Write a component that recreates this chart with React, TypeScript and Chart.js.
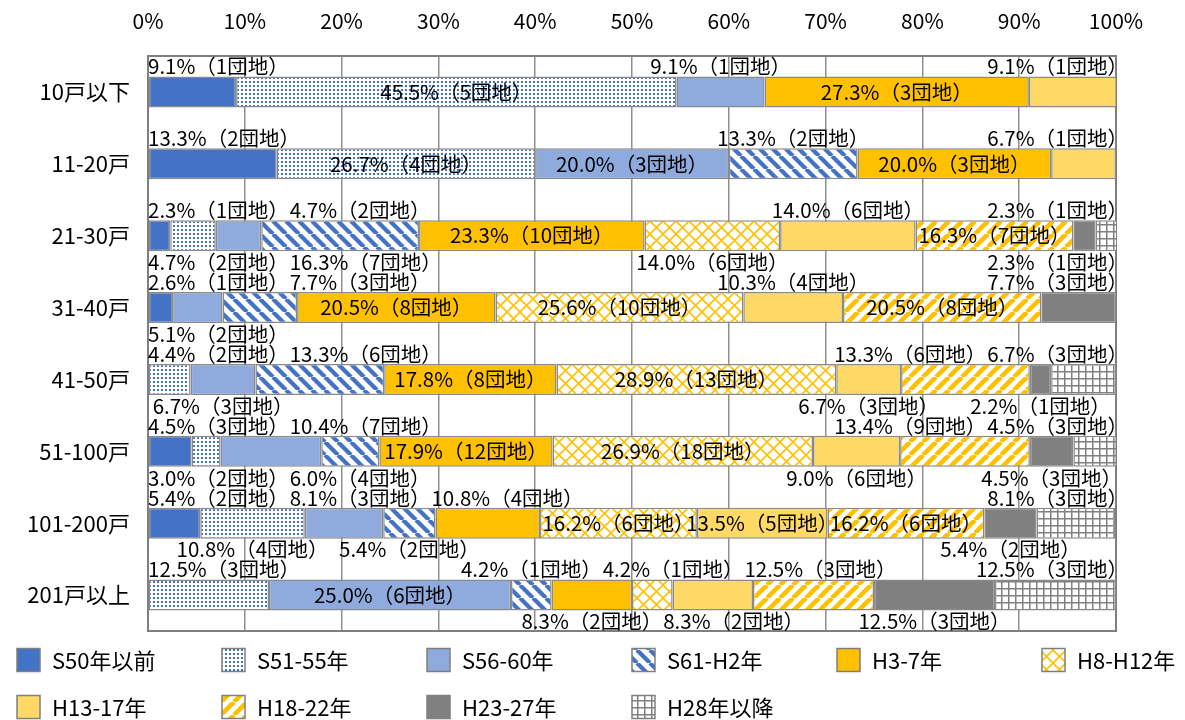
import React, { useEffect, useRef } from 'react';
import { Chart, registerables } from 'chart.js';

Chart.register(...registerables);

const FONT = '"Noto Sans CJK JP", "Noto Sans", sans-serif';

// 団地規模（戸数）の区分
const categories = ['10戸以下', '11-20戸', '21-30戸', '31-40戸', '41-50戸', '51-100戸', '101-200戸', '201戸以上'];

// 建設年度の区分
const seriesNames = ['S50年以前', 'S51-55年', 'S56-60年', 'S61-H2年', 'H3-7年', 'H8-H12年', 'H13-17年', 'H18-22年', 'H23-27年', 'H28年以降'];

// 構成比（%）
const pctS50 = [9.1, 13.3, 2.3, 2.6, null, 4.5, 5.4, null];
const pctS51 = [45.5, 26.7, 4.7, null, 4.4, 3.0, 10.8, 12.5];
const pctS56 = [9.1, 20.0, 4.7, 5.1, 6.7, 10.4, 8.1, 25.0];
const pctS61 = [null, 13.3, 16.3, 7.7, 13.3, 6.0, 5.4, 4.2];
const pctH3 = [27.3, 20.0, 23.3, 20.5, 17.8, 17.9, 10.8, 8.3];
const pctH8 = [null, null, 14.0, 25.6, 28.9, 26.9, 16.2, 4.2];
const pctH13 = [9.1, 6.7, 14.0, 10.3, 6.7, 9.0, 13.5, 8.3];
const pctH18 = [null, null, 16.3, 20.5, 13.3, 13.4, 16.2, 12.5];
const pctH23 = [null, null, 2.3, 7.7, 2.2, 4.5, 5.4, 12.5];
const pctH28 = [null, null, 2.3, null, 6.7, 4.5, 8.1, 12.5];

// 団地数
const cntS50 = [1, 2, 1, 1, 0, 3, 2, 0];
const cntS51 = [5, 4, 2, 0, 2, 2, 4, 3];
const cntS56 = [1, 3, 2, 2, 3, 7, 3, 6];
const cntS61 = [0, 2, 7, 3, 6, 4, 2, 1];
const cntH3 = [3, 3, 10, 8, 8, 12, 4, 2];
const cntH8 = [0, 0, 6, 10, 13, 18, 6, 1];
const cntH13 = [1, 1, 6, 4, 3, 6, 5, 2];
const cntH18 = [0, 0, 7, 8, 6, 9, 6, 3];
const cntH23 = [0, 0, 1, 3, 1, 3, 2, 3];
const cntH28 = [0, 0, 1, 0, 3, 3, 3, 3];

const pctSeries = [pctS50, pctS51, pctS56, pctS61, pctH3, pctH8, pctH13, pctH18, pctH23, pctH28];
const cntSeries = [cntS50, cntS51, cntS56, cntS61, cntH3, cntH8, cntH13, cntH18, cntH23, cntH28];

// x-axis tick values
const xTicks = [0, 10, 20, 30, 40, 50, 60, 70, 80, 90, 100];

// where each row's labels sit: i = inside the bar, u = above, d = below, - = none
const labelSides = [
  'uiu-i-u---',
  'uiiui-u---',
  'ududiduidu',
  'u-duiiuiu-',
  '-uduiidudu',
  'ududiidudu',
  'ududuiiidu',
  '-uiudududu',
];

const BLUE = '#4472C4';
const LIGHT_BLUE = '#8FAADC';
const ORANGE = '#FFC000';
const LIGHT_ORANGE = '#FFD966';
const GRAY = '#808080';

function tile(size: number, draw: (c: CanvasRenderingContext2D) => void): CanvasPattern | string {
  const cv = document.createElement('canvas');
  cv.width = size;
  cv.height = size;
  const c = cv.getContext('2d');
  if (!c) return '#ffffff';
  c.fillStyle = '#ffffff';
  c.fillRect(0, 0, size, size);
  draw(c);
  const p = c.createPattern(cv, 'repeat');
  return p || '#ffffff';
}

function dots(color: string) {
  return tile(4, (c) => {
    c.fillStyle = color;
    c.fillRect(1, 1, 2, 2);
  });
}

function stripes(color: string, down: boolean, width: number) {
  const p = 13;
  return tile(p, (c) => {
    c.strokeStyle = color;
    c.lineWidth = width;
    for (let k = -1; k <= 1; k++) {
      c.beginPath();
      if (down) {
        c.moveTo(k * p, 0);
        c.lineTo(k * p + p, p);
      } else {
        c.moveTo(k * p, p);
        c.lineTo(k * p + p, 0);
      }
      c.stroke();
    }
  });
}

function lattice(color: string) {
  const p = 13;
  return tile(p, (c) => {
    c.strokeStyle = color;
    c.lineWidth = 1.6;
    for (let k = -1; k <= 1; k++) {
      c.beginPath();
      c.moveTo(k * p, 0);
      c.lineTo(k * p + p, p);
      c.moveTo(k * p, p);
      c.lineTo(k * p + p, 0);
      c.stroke();
    }
  });
}

function grid(color: string) {
  const p = 7;
  return tile(p, (c) => {
    c.fillStyle = color;
    c.fillRect(0, 0, p, 1.5);
    c.fillRect(0, 0, 1.5, p);
  });
}

function seriesFills() {
  return [
    BLUE,
    dots(BLUE),
    LIGHT_BLUE,
    stripes(BLUE, true, 4.2),
    ORANGE,
    lattice(ORANGE),
    LIGHT_ORANGE,
    stripes(ORANGE, false, 4.6),
    GRAY,
    grid(GRAY),
  ];
}

function labelText(pct: number, cnt: number) {
  return `${pct.toFixed(1)}%（${cnt}団地）`;
}

type LaneItem = { cx: number; w: number; x: number; y: number; text: string };

function placeLane(items: LaneItem[], left: number, right: number, gap: number) {
  let prev = left - gap;
  for (const it of items) {
    let x = Math.max(it.cx - it.w / 2, left);
    x = Math.max(x, prev + gap);
    it.x = x;
    prev = x + it.w;
  }
  let lim = right;
  for (let k = items.length - 1; k >= 0; k--) {
    const it = items[k];
    if (it.x + it.w > lim) it.x = lim - it.w;
    lim = it.x - gap;
  }
}

const dataLabels = {
  id: 'dataLabels',
  afterDatasetsDraw(chart: any) {
    const ctx: CanvasRenderingContext2D = chart.ctx;
    const area = chart.chartArea;
    ctx.save();
    ctx.font = `20.5px ${FONT}`;
    ctx.fillStyle = '#000000';
    ctx.textBaseline = 'middle';
    ctx.textAlign = 'left';
    categories.forEach((_, j) => {
      const up: LaneItem[] = [];
      const down: LaneItem[] = [];
      const inside: LaneItem[] = [];
      pctSeries.forEach((series, i) => {
        const v = series[j];
        if (v == null) return;
        const side = labelSides[j][i];
        if (side === '-') return;
        const el = chart.getDatasetMeta(i).data[j];
        if (!el) return;
        const text = labelText(v, cntSeries[i][j]);
        const w = ctx.measureText(text).width;
        const cx = (el.x + el.base) / 2;
        const half = el.height / 2;
        const item: LaneItem = { cx, w, x: cx - w / 2, y: el.y, text };
        if (side === 'i') inside.push(item);
        else if (side === 'u') { item.y = el.y - half - 10; up.push(item); }
        else { item.y = el.y + half + 11; down.push(item); }
      });
      placeLane(up, area.left, area.right + 12, 1);
      placeLane(down, area.left, area.right + 12, 1);
      [...inside, ...up, ...down].forEach((it) => ctx.fillText(it.text, it.x, it.y));
    });
    ctx.restore();
  },
};

const frame = {
  id: 'frame',
  beforeDatasetsDraw(chart: any) {
    const { ctx, chartArea: a } = chart;
    ctx.save();
    ctx.strokeStyle = '#7f7f7f';
    ctx.lineWidth = 2;
    ctx.strokeRect(a.left, a.top, a.right - a.left, a.bottom - a.top);
    ctx.restore();
  },
};

const legendBlock = {
  id: 'legendBlock',
  afterDraw(chart: any) {
    const ctx: CanvasRenderingContext2D = chart.ctx;
    ctx.save();
    ctx.font = `22px ${FONT}`;
    ctx.textBaseline = 'middle';
    ctx.textAlign = 'left';
    chart.data.datasets.forEach((ds: any, i: number) => {
      const col = i % 6;
      const row = Math.floor(i / 6);
      const x = 17 + col * 205;
      const yc = row === 0 ? 660 : 707;
      ctx.fillStyle = ds.backgroundColor;
      ctx.fillRect(x, yc - 11.5, 23, 23);
      ctx.strokeStyle = '#7f7f7f';
      ctx.lineWidth = 1.5;
      ctx.strokeRect(x, yc - 11.5, 23, 23);
      ctx.fillStyle = '#000000';
      ctx.fillText(ds.label, x + 35, yc + 1);
    });
    ctx.restore();
  },
};

export default function App() {
  const ref = useRef<HTMLCanvasElement | null>(null);

  useEffect(() => {
    document.body.style.margin = '0';
    const canvas = ref.current;
    if (!canvas) return;
    const fills = seriesFills();
    const chart = new Chart(canvas, {
      type: 'bar',
      data: {
        labels: categories,
        datasets: seriesNames.map((name, i) => ({
          label: name,
          data: pctSeries[i],
          backgroundColor: fills[i],
          borderColor: '#8a8a8a',
          borderWidth: 1.5,
          borderSkipped: false,
          barPercentage: 0.43,
          categoryPercentage: 1,
        })),
      },
      options: {
        indexAxis: 'y',
        animation: false,
        responsive: false,
        devicePixelRatio: 1,
        layout: { padding: { top: 0, left: 0, right: 69, bottom: 89 } },
        plugins: {
          legend: { display: false },
          tooltip: { enabled: false },
        },
        scales: {
          x: {
            position: 'top',
            stacked: true,
            min: 0,
            max: 100,
            afterFit: (s: any) => { s.height = 56; },
            afterBuildTicks: (s: any) => { s.ticks = xTicks.map((v) => ({ value: v })); },
            ticks: {
              callback: (v: any) => `${v}%`,
              color: '#000000',
              font: { family: FONT, size: 21 },
              padding: 22,
            },
            grid: { color: '#8f8f8f', lineWidth: 1.5, drawTicks: false },
            border: { display: false },
          },
          y: {
            stacked: true,
            afterFit: (s: any) => { s.width = 148; },
            ticks: {
              color: '#000000',
              font: { family: FONT, size: 22 },
              padding: 18,
            },
            grid: { display: false, drawTicks: false },
            border: { display: false },
          },
        },
      },
      plugins: [frame, dataLabels, legendBlock],
    });
    return () => chart.destroy();
  }, []);

  return (
    <div style={{ width: 1185, height: 720, position: 'relative', background: '#ffffff' }}>
      <canvas ref={ref} width={1185} height={720} style={{ display: 'block', width: 1185, height: 720 }} />
    </div>
  );
}
